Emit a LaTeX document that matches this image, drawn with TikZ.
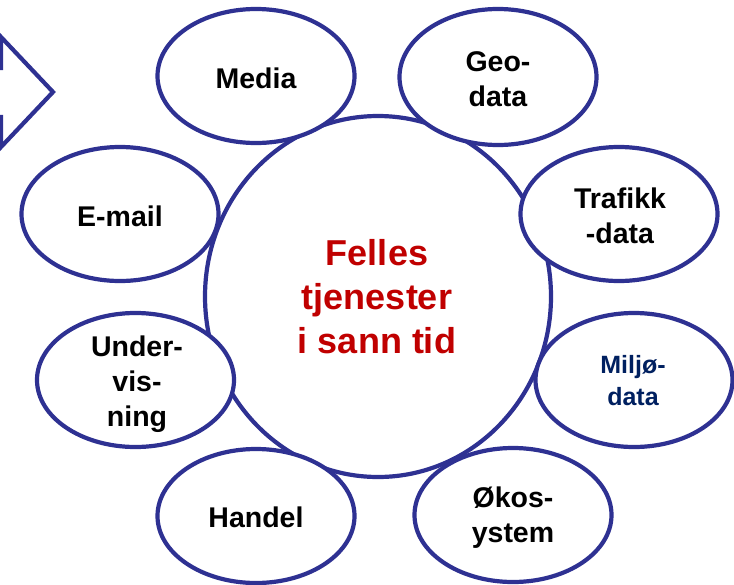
\documentclass[tikz,border=0pt]{standalone}
\usepackage{fontspec}
\setmainfont{Liberation Sans}
\usetikzlibrary{shapes.geometric}
\definecolor{navy}{RGB}{46,49,146}
\definecolor{fred}{RGB}{192,0,0}
\definecolor{mblue}{RGB}{0,32,96}
\begin{document}
\begin{tikzpicture}[x=1pt,y=-1pt,
  bub/.style={ellipse,draw=navy,line width=4.2pt,fill=white,minimum width=197pt,minimum height=134pt,inner sep=0pt},
  lbl/.style={align=center,inner sep=0pt,font=\bfseries\fontsize{28.5}{35}\selectfont},
  mlbl/.style={align=center,inner sep=0pt,text=mblue,font=\bfseries\fontsize{25}{32}\selectfont},
  clbl/.style={align=center,inner sep=0pt,text=fred,font=\bfseries\fontsize{36}{44}\selectfont}]
\useasboundingbox (0,0) rectangle (734,584);
\clip (0,0) rectangle (734,584);
% centre circle
\node[ellipse,draw=navy,line width=4.2pt,fill=white,minimum width=346pt,minimum height=361pt,inner sep=0pt] (core) at (378,296.5) {};
\node[clbl] (coretext) at (377,297) {Felles\\tjenester\\i sann tid};
% satellites
\node[bub] (media) at (256,76) {};
\node[lbl] (mediat) at (256,78) {Media};
\node[bub,minimum height=136pt] (geo) at (498,77) {};
\node[lbl] (geot) at (498,79) {Geo-\\data};
\node[bub] (traf) at (619,214) {};
\node[lbl] (traft) at (620,216) {Trafikk\\-data};
\node[bub] (email) at (120,214) {};
\node[lbl] (emailt) at (120,216) {E-mail};
\node[bub] (under) at (135.5,380) {};
\node[lbl] (undert) at (137,384) {Under-\\vis-\\ning};
\node[bub] (milj) at (634,380) {};
\node[mlbl] (miljt) at (633,381) {Miljø-\\data};
\node[bub] (handel) at (256,516) {};
\node[lbl] (handelt) at (256,517) {Handel};
\node[bub] (oko) at (513,515) {};
\node[lbl] (okot) at (513,518) {Økos-\\ystem};
% block arrow, partly off the page
\draw[navy,line width=4.2pt,line join=miter] (-40,68) -- (1,68) -- (1,37) -- (53,92) -- (1,147) -- (1,117) -- (-40,117);
\end{tikzpicture}
\end{document}
